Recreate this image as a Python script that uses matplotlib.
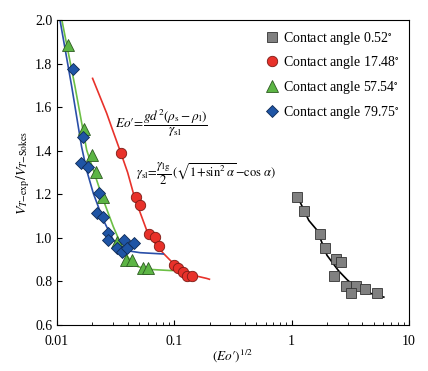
import numpy as np
import matplotlib
matplotlib.use("Agg")
import matplotlib.pyplot as plt

plt.rcParams['font.family'] = ['Liberation Serif', 'DejaVu Serif']
plt.rcParams['mathtext.fontset'] = 'stix'

# datos: x = (Eo')^1/2, y = V_T-exp / V_T-Stokes
x_052 = [1.12, 1.28, 1.74, 1.91, 2.38, 2.62, 2.29, 2.93, 3.54, 3.23, 4.25, 5.38]
y_052 = [1.186, 1.122, 1.019, 0.953, 0.902, 0.889, 0.825, 0.779, 0.779, 0.745, 0.765, 0.745]

x_1748 = [0.0351, 0.0469, 0.0510, 0.0612, 0.068, 0.0736, 0.0995, 0.108, 0.118, 0.1277, 0.1406]
y_1748 = [1.391, 1.186, 1.151, 1.016, 1.003, 0.964, 0.875, 0.860, 0.845, 0.825, 0.825]

x_5754 = [0.01248, 0.0170, 0.0198, 0.0215, 0.0245, 0.0326, 0.0387, 0.0433, 0.0544, 0.0598]
y_5754 = [1.885, 1.498, 1.380, 1.304, 1.189, 0.982, 0.898, 0.898, 0.860, 0.860]

x_7975 = [0.01361, 0.01676, 0.01593, 0.0185, 0.0229, 0.0221, 0.0248, 0.0274, 0.0274,
          0.0326, 0.0372, 0.0356, 0.0397, 0.0453]
y_7975 = [1.774, 1.464, 1.342, 1.327, 1.205, 1.113, 1.094, 1.021, 0.990,
          0.952, 0.990, 0.937, 0.952, 0.975]

fit_052_x = [1.12, 1.4, 1.64, 2.0, 2.5, 2.98, 3.5, 4.5, 6.1]
fit_052_y = [1.19, 1.08, 1.036, 0.92, 0.85, 0.807, 0.775, 0.748, 0.728]

fit_1748_x = [0.0201, 0.0265, 0.030, 0.035, 0.040, 0.0448, 0.050, 0.058, 0.065, 0.0806, 0.095, 0.1118, 0.14, 0.188, 0.199]
fit_1748_y = [1.732, 1.572, 1.49, 1.39, 1.30, 1.204, 1.13, 1.036, 0.99, 0.929, 0.89, 0.852, 0.83, 0.814, 0.810]

fit_5754_x = [0.0110, 0.01424, 0.0179, 0.0191, 0.0248, 0.0302, 0.0368, 0.0447, 0.058, 0.092, 0.098]
fit_5754_y = [2.0, 1.694, 1.403, 1.357, 1.174, 1.051, 0.944, 0.875, 0.856, 0.850, 0.850]

fit_7975_x = [0.0106, 0.01335, 0.0162, 0.0179, 0.0204, 0.0248, 0.0302, 0.0368, 0.051, 0.0805]
fit_7975_y = [2.0, 1.694, 1.418, 1.31, 1.204, 1.082, 0.990, 0.944, 0.932, 0.926]

fig = plt.figure(figsize=(4.28, 3.71), dpi=100)
ax = fig.add_axes([0.1332, 0.124, 0.8224, 0.8221])

ax.plot(fit_052_x, fit_052_y, color='black', lw=1.2, zorder=2)
ax.plot(fit_1748_x, fit_1748_y, color='#e8322b', lw=1.2, zorder=2)
ax.plot(fit_5754_x, fit_5754_y, color='#6cbf45', lw=1.2, zorder=2)
ax.plot(fit_7975_x, fit_7975_y, color='#2a4fa8', lw=1.2, zorder=2)

ax.plot(x_052, y_052, 's', color='#808080', mec='#333333', mew=0.6, ms=7,
        label=r'Contact angle 0.52$^{\circ}$', zorder=3)
ax.plot(x_1748, y_1748, 'o', color='#e8312a', mec='#7a1a14', mew=0.6, ms=7.5,
        label=r'Contact angle 17.48$^{\circ}$', zorder=3)
ax.plot(x_5754, y_5754, '^', color='#5cb544', mec='#2d5a22', mew=0.6, ms=8,
        label=r'Contact angle 57.54$^{\circ}$', zorder=3)
ax.plot(x_7975, y_7975, 'D', color='#1f55a5', mec='#0e2a55', mew=0.6, ms=6.5,
        label=r'Contact angle 79.75$^{\circ}$', zorder=3)

ax.set_xscale('log')
ax.set_xlim(0.01, 10)
ax.set_ylim(0.6, 2.0)
ax.set_yticks(np.arange(0.6, 2.01, 0.2))
ax.set_yticklabels([f"{v:.1f}" for v in np.arange(0.6, 2.01, 0.2)])
ax.set_xticks([0.01, 0.1, 1, 10])
ax.set_xticklabels(['0.01', '0.1', '1', '10'])
ax.tick_params(direction='in', labelsize=10, top=False, right=False)
ax.tick_params(which='minor', direction='in', top=False)
ax.tick_params(axis='x', pad=7)

ax.set_xlabel(r"$(Eo′)^{1/2}$", fontsize=9.5, labelpad=0)
ax.set_ylabel(r"$V_{T\mathrm{-exp}}/V_{T\mathrm{-Sokes}}$", fontsize=10, labelpad=2)

ax.text(0.165, 0.662, r"$Eo′\!=\!\dfrac{gd^2(\rho_\mathrm{s}-\rho_\mathrm{l})}{\gamma_\mathrm{sl}}$",
        transform=ax.transAxes, fontsize=9.5, va='center', ha='left')
ax.text(0.224, 0.498, r"$\gamma_\mathrm{sl}\!=\!\dfrac{\gamma_\mathrm{lg}}{2}\,(\sqrt{1\!+\!\sin^2\alpha}\!-\!\cos\,\alpha)$",
        transform=ax.transAxes, fontsize=9, va='center', ha='left')

ax.legend(loc='upper right', frameon=False, fontsize=10, handlelength=0.8,
          handletextpad=0.4, labelspacing=0.55, borderaxespad=0.3)

fig.savefig('out.png', dpi=100)
